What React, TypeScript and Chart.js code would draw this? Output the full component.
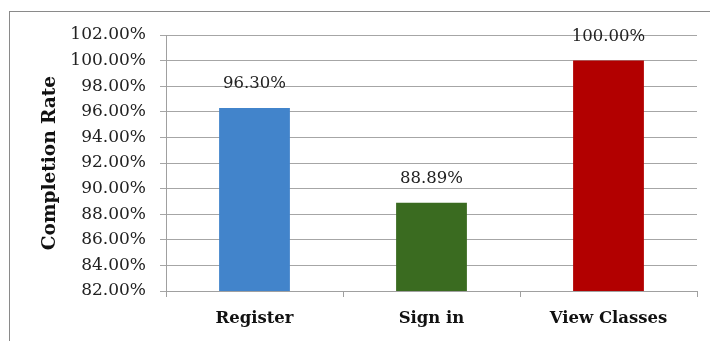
import React, { useEffect, useRef } from "react";
import { Chart, registerables } from "chart.js";

Chart.register(...registerables);

const categories: string[] = ["Register", "Sign in", "View Classes"];
const completionRates: number[] = [96.3, 88.89, 100.0];
const barColors: string[] = ["#4284cb", "#3a6b20", "#b20000"];
const yMin = 82;
const yMax = 102;
const yStep = 2;
const yTitle = "Completion Rate";

const FONT = "'DejaVu Serif', serif";

const dataLabelPlugin = {
  id: "dataLabels",
  afterDatasetsDraw(chart: any) {
    const ctx = chart.ctx;
    const meta = chart.getDatasetMeta(0);
    ctx.save();
    ctx.font = `16.5px ${FONT}`;
    ctx.fillStyle = "#222";
    ctx.textAlign = "center";
    ctx.textBaseline = "middle";
    meta.data.forEach((bar: any, i: number) => {
      const v = completionRates[i];
      ctx.fillText(v.toFixed(2) + "%", bar.x, bar.y - 24);
    });
    ctx.restore();
  },
};

export default function App() {
  const ref = useRef<HTMLCanvasElement>(null);
  useEffect(() => {
    if (!ref.current) return;
    const chart = new Chart(ref.current, {
      type: "bar",
      data: {
        labels: categories,
        datasets: [
          {
            data: completionRates,
            backgroundColor: barColors,
            borderWidth: 0,
            categoryPercentage: 0.8,
            barPercentage: 0.5,
          },
        ],
      },
      options: {
        animation: false,
        responsive: false,
        maintainAspectRatio: false,
        events: [],
        layout: { padding: { top: 35, right: 13, left: 0, bottom: 0 } },
        plugins: {
          legend: { display: false },
          tooltip: { enabled: false },
        },
        scales: {
          x: {
            grid: {
              display: true,
              offset: true,
              drawOnChartArea: false,
              drawTicks: true,
              tickLength: 6,
              color: "#a0a0a0",
            },
            border: { display: true, color: "#a0a0a0" },
            ticks: {
              color: "#111",
              font: { family: FONT, size: 16.5, weight: "bold" },
              padding: 12,
            },
            afterFit(scale: any) {
              scale.height = 50;
            },
          },
          y: {
            min: yMin,
            max: yMax,
            ticks: {
              stepSize: yStep,
              color: "#222",
              font: { family: FONT, size: 17 },
              padding: 14,
              callback: (v: any) => Number(v).toFixed(2) + "%",
            },
            grid: {
              color: "#a6a6a6",
              tickLength: 6,
              drawTicks: true,
            },
            border: { display: true, color: "#a0a0a0" },
            title: {
              display: true,
              text: yTitle,
              color: "#111",
              font: { family: FONT, size: 18.5, weight: "bold" },
              padding: { top: 39, bottom: 0 },
            },
            afterFit(scale: any) {
              scale.width = 166;
            },
          },
        },
      },
      plugins: [dataLabelPlugin],
    });
    return () => chart.destroy();
  }, []);

  return (
    <div
      style={{
        position: "absolute",
        left: 0,
        top: 0,
        width: 710,
        height: 341,
        overflow: "hidden",
        background: "#fff",
      }}
    >
      <div
        style={{
          position: "absolute",
          left: 9,
          top: 11,
          width: 720,
          height: 400,
          border: "1px solid #8a8a8a",
        }}
      />
      <canvas
        ref={ref}
        width={710}
        height={341}
        style={{ position: "absolute", left: 0, top: 0, width: 710, height: 341 }}
      />
    </div>
  );
}
